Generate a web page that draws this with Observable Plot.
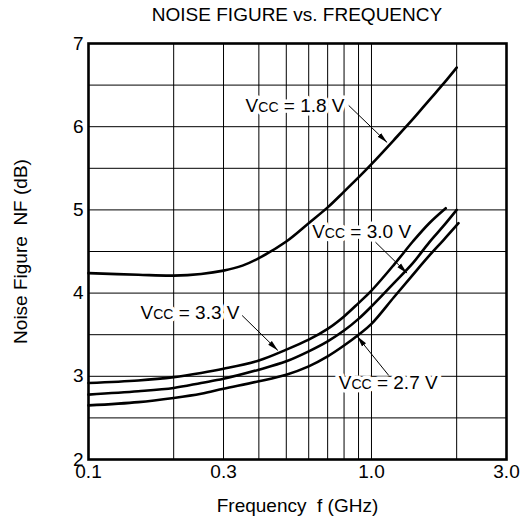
<!DOCTYPE html>
<html>
<head>
<meta charset="utf-8">
<script src="https://cdn.jsdelivr.net/npm/d3@7"></script>
<script src="https://cdn.jsdelivr.net/npm/@observablehq/plot@0.6"></script>
<style>
  html, body { margin: 0; padding: 0; background: #fff; }
  #title { width: 520px; height: 30px; line-height: 30px; box-sizing: border-box; padding-left: 74px;
           text-align: center; font-family: "Liberation Sans", Arial, sans-serif; font-size: 19px; color: #000; }
</style>
</head>
<body>
<div id="title"></div>
<div id="chart"></div>
<script>
const titleText = "NOISE FIGURE vs. FREQUENCY";
const xLabel = "Frequency\u00a0\u00a0f (GHz)";
const yLabel = "Noise Figure\u00a0\u00a0NF (dB)";

const xTicks = [0.1, 0.3, 1, 3];
const yTicks = [2, 3, 4, 5, 6, 7];
const xGrid = [0.2, 0.3, 0.4, 0.5, 0.6, 0.7, 0.8, 0.9, 1, 2];
const yGrid = [2.5, 3, 3.5, 4, 4.5, 5, 5.5, 6, 6.5];

// Vcc = 1.8 V
const freq18 = [0.1, 0.15, 0.2, 0.25, 0.3, 0.35, 0.4, 0.5, 0.6, 0.7, 0.8, 0.9, 1.0, 1.2, 1.4, 1.6, 1.8, 2.0];
const nf18   = [4.24, 4.22, 4.21, 4.23, 4.27, 4.33, 4.42, 4.62, 4.84, 5.03, 5.22, 5.39, 5.55, 5.84, 6.09, 6.32, 6.52, 6.71];
// Vcc = 3.3 V
const freq33 = [0.1, 0.15, 0.2, 0.25, 0.3, 0.4, 0.5, 0.6, 0.7, 0.8, 0.9, 1.0, 1.2, 1.4, 1.6, 1.83];
const nf33   = [2.92, 2.95, 2.99, 3.04, 3.09, 3.19, 3.32, 3.44, 3.57, 3.72, 3.88, 4.03, 4.34, 4.62, 4.84, 5.02];
// Vcc = 3.0 V
const freq30 = [0.1, 0.15, 0.2, 0.25, 0.3, 0.4, 0.5, 0.6, 0.7, 0.8, 0.9, 1.0, 1.2, 1.4, 1.6, 1.8, 2.0];
const nf30   = [2.78, 2.82, 2.86, 2.92, 2.97, 3.08, 3.18, 3.30, 3.42, 3.55, 3.69, 3.84, 4.12, 4.36, 4.61, 4.81, 5.00];
// Vcc = 2.7 V
const freq27 = [0.1, 0.15, 0.2, 0.25, 0.3, 0.4, 0.5, 0.6, 0.7, 0.8, 0.9, 1.0, 1.2, 1.4, 1.6, 1.8, 2.03];
const nf27   = [2.65, 2.69, 2.74, 2.79, 2.85, 2.94, 3.02, 3.12, 3.24, 3.37, 3.50, 3.63, 3.95, 4.22, 4.45, 4.64, 4.84];

// annotations
const annText = ["VCC = 1.8 V", "VCC = 3.0 V", "VCC = 3.3 V", "VCC = 2.7 V"];
const annX    = [0.359, 0.617, 0.1527, 0.766];
const annY    = [6.255, 4.73, 3.767, 2.925];
const arrX1   = [0.831, 1.033, 0.349, 1.151];
const arrY1   = [6.255, 4.612, 3.731, 3.01];
const arrX2   = [1.136, 1.336, 0.467, 0.890];
const arrY2   = [5.81, 4.24, 3.31, 3.48];

const series = [
  {name: "1.8", f: freq18, v: nf18},
  {name: "3.3", f: freq33, v: nf33},
  {name: "3.0", f: freq30, v: nf30},
  {name: "2.7", f: freq27, v: nf27}
];
const rows = series.flatMap(s => s.f.map((f, i) => ({series: s.name, f, nf: s.v[i]})));
const anns = annText.map((t, i) => ({t, x: annX[i], y: annY[i], x1: arrX1[i], y1: arrY1[i], x2: arrX2[i], y2: arrY2[i]}));

document.getElementById("title").textContent = titleText;

const font = "'Liberation Sans', Arial, Helvetica, sans-serif";
const chart = Plot.plot({
  width: 520,
  height: 492,
  marginTop: 13,
  marginBottom: 63,
  marginLeft: 88,
  marginRight: 14,
  style: {fontFamily: font, fontSize: "19px", background: "#fff", color: "#000"},
  x: {type: "log", domain: [0.1, 3], ticks: xTicks, tickFormat: d => d.toFixed(1), tickSize: 0, tickPadding: 5, label: null},
  y: {domain: [2, 7], ticks: yTicks, tickFormat: d => String(d), tickSize: 0, tickPadding: 5, label: null},
  marks: [
    Plot.ruleX(xGrid, {stroke: "#000", strokeWidth: 1}),
    Plot.ruleY(yGrid, {stroke: "#000", strokeWidth: 1}),
    Plot.text(anns, {x: "x", y: "y", text: "t", textAnchor: "start", lineAnchor: "middle", fill: "#000",
      stroke: "#fff", strokeWidth: 7, fontSize: 19}),
    Plot.line(rows, {x: "f", y: "nf", z: "series", stroke: "#000", strokeWidth: 2.6, curve: "catmull-rom"}),
    Plot.link(anns, {x1: "x1", y1: "y1", x2: "x2", y2: "y2", stroke: "#000", strokeWidth: 1}),
    Plot.frame({stroke: "#000", strokeWidth: 2.6}),
    Plot.text([xLabel], {frameAnchor: "bottom", lineAnchor: "top", dy: 39, fontSize: 19, fill: "#000"}),
    Plot.text([yLabel], {frameAnchor: "left", rotate: -90, textAnchor: "middle", lineAnchor: "middle", dx: -68, fontSize: 19, fill: "#000"})
  ]
});
document.getElementById("chart").appendChild(chart);

// subscript-style "CC" in the annotation labels
const ns = "http://www.w3.org/2000/svg";
chart.querySelectorAll("text").forEach(t => {
  const s = t.textContent;
  if (s.startsWith("VCC")) {
    t.textContent = "";
    const parts = [["V", null], ["CC", "14px"], [s.slice(3), null]];
    for (const [txt, fs] of parts) {
      const ts = document.createElementNS(ns, "tspan");
      if (fs) ts.setAttribute("font-size", fs);
      ts.textContent = txt.replace(/ /g, "\u00a0");
      t.appendChild(ts);
    }
  }
});

// filled arrowheads on the annotation links
const defs = document.createElementNS(ns, "defs");
const marker = document.createElementNS(ns, "marker");
marker.setAttribute("id", "ahead");
marker.setAttribute("viewBox", "-11 -3 11 6");
marker.setAttribute("refX", "0");
marker.setAttribute("refY", "0");
marker.setAttribute("markerWidth", "11");
marker.setAttribute("markerHeight", "6");
marker.setAttribute("markerUnits", "userSpaceOnUse");
marker.setAttribute("orient", "auto");
const mp = document.createElementNS(ns, "path");
mp.setAttribute("d", "M-11,-2.6L0,0L-11,2.6Z");
mp.setAttribute("fill", "#000");
marker.appendChild(mp);
defs.appendChild(marker);
chart.insertBefore(defs, chart.firstChild);
chart.querySelectorAll('g[aria-label="link"] path').forEach(p => p.setAttribute("marker-end", "url(#ahead)"));
</script>
</body>
</html>
